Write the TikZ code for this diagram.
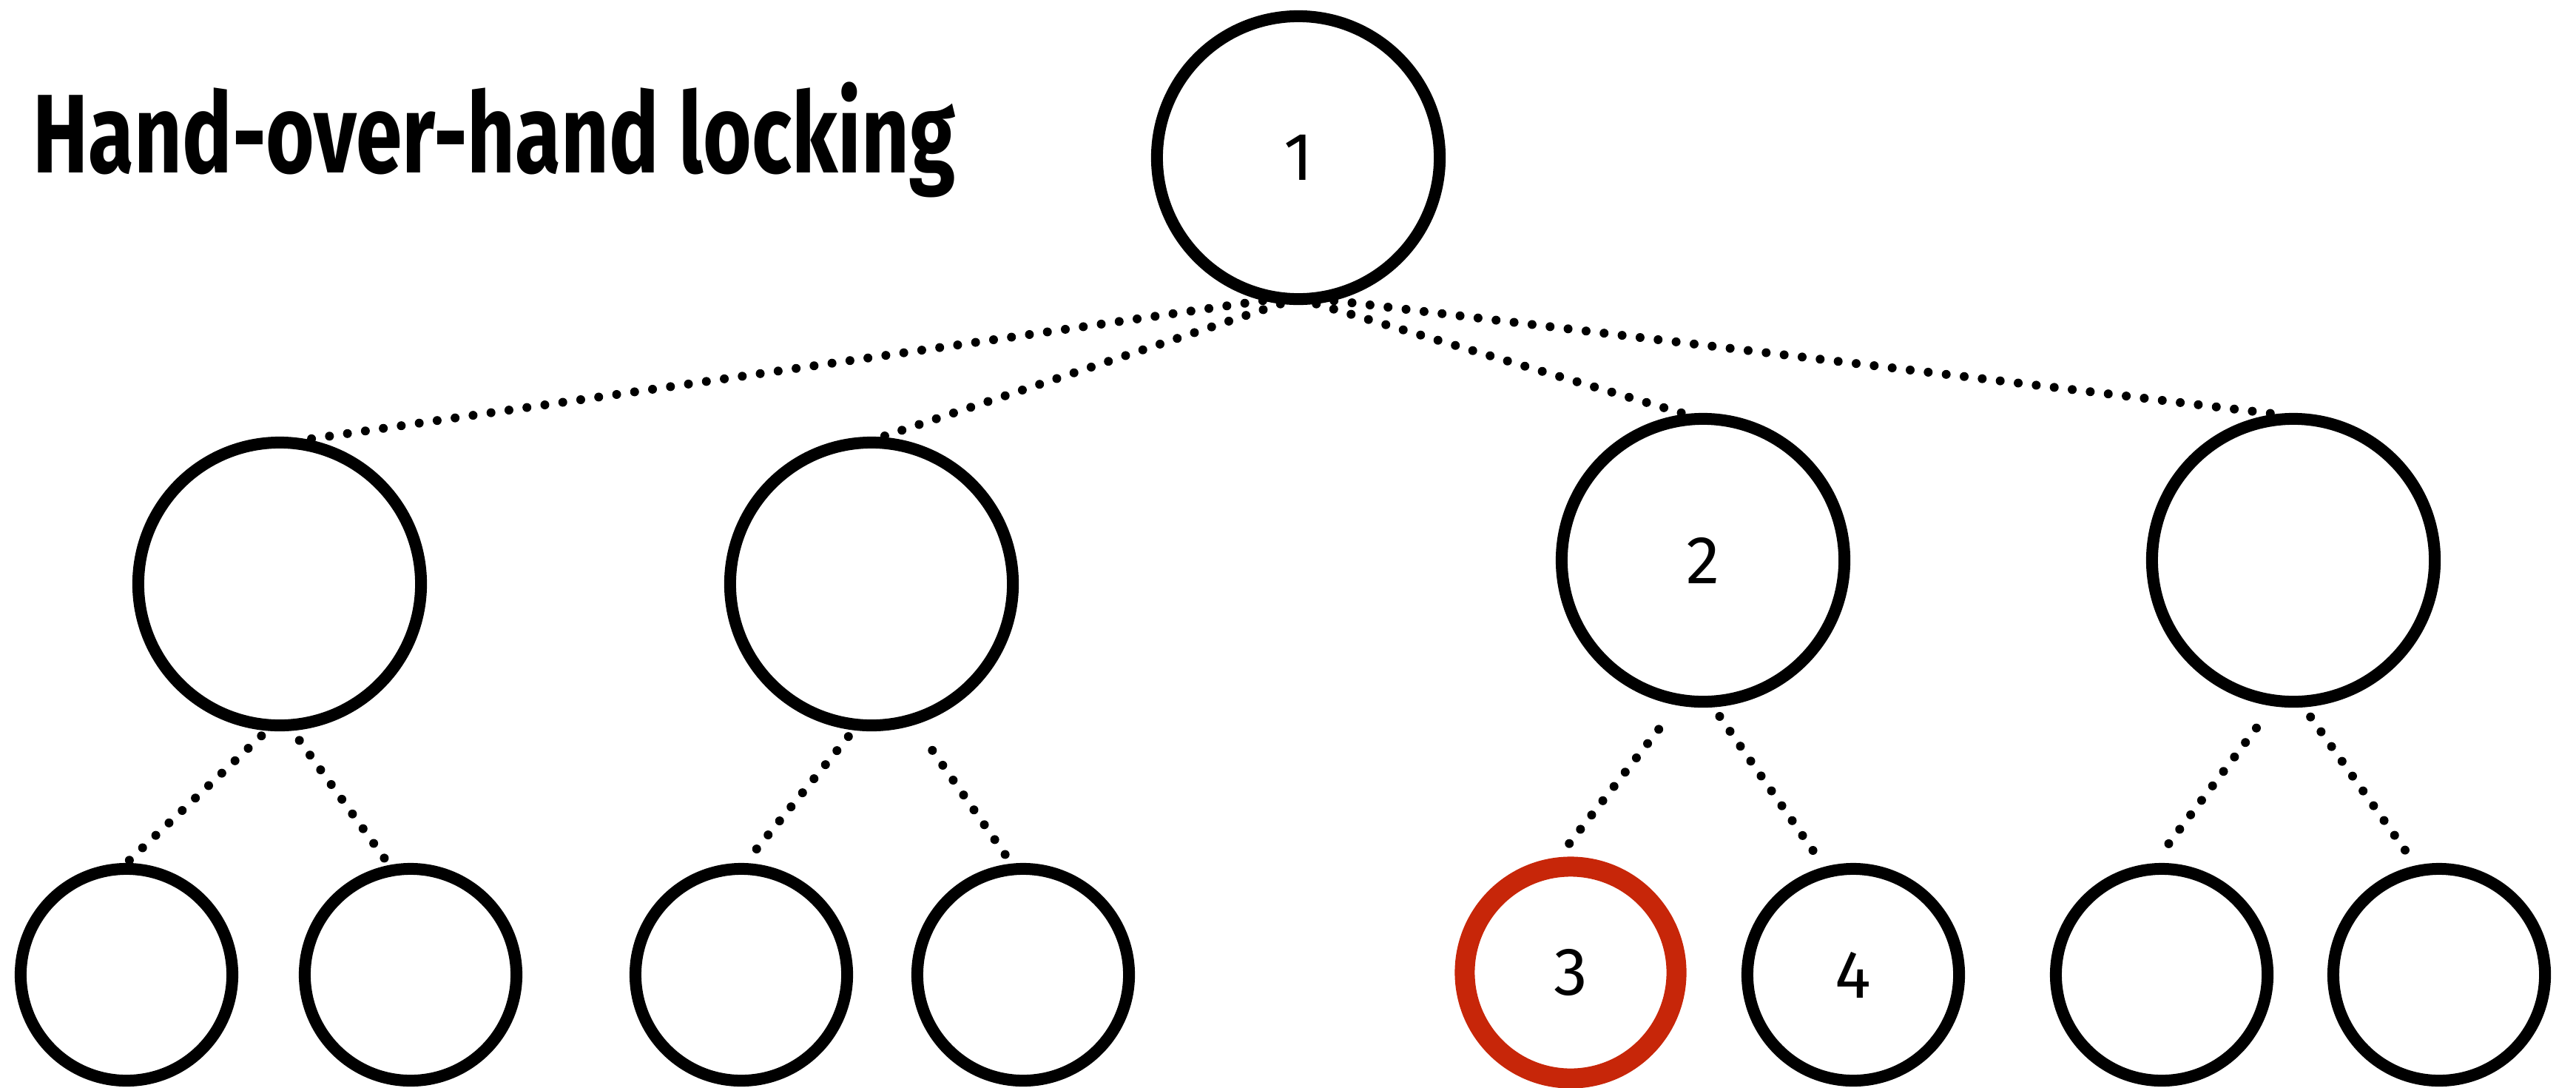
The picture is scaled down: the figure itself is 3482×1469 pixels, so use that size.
\documentclass[tikz,border=0pt]{standalone}
\usepackage{fontspec}
\setmainfont{Fira Sans}
\newfontfamily\titlefont{Fira Sans}[FakeStretch=0.745]
\definecolor{lockred}{RGB}{199,38,9}

\tikzset{
    treenode/.style={circle, draw, line width=0.16cm, minimum size=3.82cm,
        inner sep=0pt, font=\fontsize{26}{30}\selectfont},
    leafnode/.style={treenode, minimum size=2.86cm},
    lockednode/.style={leafnode, draw=lockred, line width=0.27cm},
    treelink/.style={line width=0.12cm, line cap=round,
        dash pattern=on 0pt off 0.245cm}
}

\begin{document}
\begin{tikzpicture}[x=0.01cm, y=-0.01cm]
    \useasboundingbox (0,0) rectangle (3482,1469);
    \node[anchor=base west, inner sep=0pt,
        font=\titlefont\bfseries\fontsize{43}{48}\selectfont] (title) at (44,233)
        {Hand-over-hand locking};

    \node[treenode] (root) at (1755,213) {1};
    \node[treenode] (a) at (378,789) {};
    \node[treenode] (b) at (1178,789) {};
    \node[treenode] (c) at (2302,757) {2};
    \node[treenode] (d) at (3100,757) {};

    \foreach \name/\x in {aa/171, ab/555, ba/1002, bb/1383, da/2922, db/3297}{
        \node[leafnode] (\name) at (\x,1317) {};
    }
    \node[lockednode] (ca) at (2123,1314) {3};
    \node[leafnode] (cb) at (2505,1317) {4};

    \foreach \to/\fa/\ta in {a/-104/79, b/-97/86, c/-83/97, d/-76/97}{
        \draw[treelink] (root.\fa) -- (\to.\ta);
    }
    \foreach \from/\fa/\to/\ta/\gs/\ge in {a/-95/aa/90/10/2, a/-85/ab/101/16/8,
        b/-97/ba/88/11/12, b/-73/bb/96/42/6, c/-100/ca/96/41/1,
        c/-86/cb/105/15/24, d/-98/da/94/37/12, d/-86/db/102/16/16}{
        \draw[treelink, shorten <=\gs*0.01cm, shorten >=\ge*0.01cm]
            (\from.\fa) -- (\to.\ta);
    }
\end{tikzpicture}
\end{document}
